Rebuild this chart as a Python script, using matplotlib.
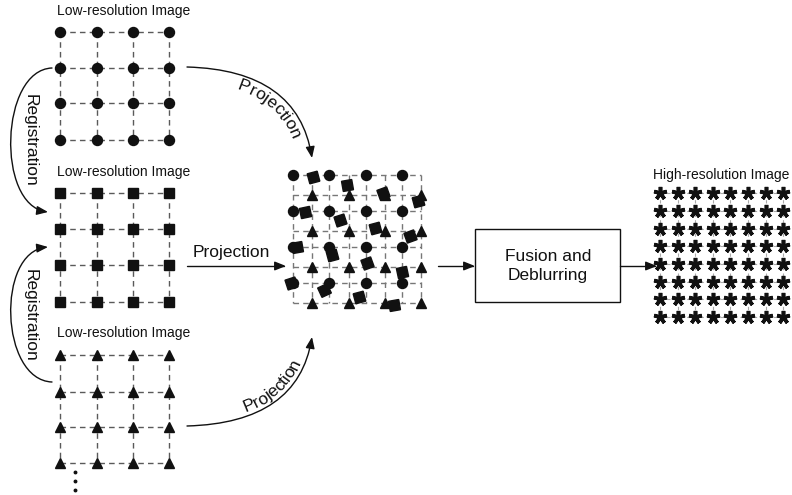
import numpy as np
import matplotlib
matplotlib.use('Agg')
import matplotlib.pyplot as plt
from matplotlib.patches import FancyArrowPatch, Rectangle
from matplotlib.path import Path
from matplotlib.font_manager import FontProperties

plt.rcParams['font.family'] = ['Liberation Sans', 'DejaVu Sans']

# low-resolution grids (pixel positions, y down)
lr_cols = [60, 97, 133, 169]
circle_rows = [32, 68, 103, 140]
square_rows = [193, 229, 265, 302]
triangle_rows = [355, 392, 427, 463]
lr_title = 'Low-resolution Image'
lr_title_y = [11, 172, 333]

# projected samples on the common grid
proj_circle_x = [293, 329, 366, 402]
proj_circle_y = [175, 211, 247, 283]
proj_tri_x = [312, 349, 385, 421]
proj_tri_y = [195, 231, 267, 303]
proj_sq_x = [313, 347, 383, 418, 305, 340, 375, 410, 297, 332, 367, 402, 291, 324, 359, 394]
proj_sq_y = [177, 185, 193, 201, 212, 220, 228, 236, 247, 255, 263, 272, 283, 290, 297, 305]
proj_sq_angle = [15, 10, 20, 15, 12, 18, 15, 20, 10, 15, 20, 12, 18, 25, 15, 10]

# high-resolution grid
hr_cols = [660, 678, 695, 713, 730, 748, 766, 783]
hr_rows = [193, 211, 229, 246, 264, 282, 299, 317]
hr_title = 'High-resolution Image'

ink = '#111111'
dash_c = '#5a5a5a'
head = '-|>,head_length=0.45,head_width=0.18'

fig = plt.figure(figsize=(7.92, 4.95), dpi=100)
ax = fig.add_axes([0, 0, 1, 1])
ax.set_xlim(0, 792)
ax.set_ylim(495, 0)
ax.axis('off')


def lr_grid(rows, marker, ms):
    for y in rows:
        ax.plot([lr_cols[0], lr_cols[-1]], [y, y], ls=(0, (4, 3)), color=dash_c, lw=1, zorder=1)
    for x in lr_cols:
        ax.plot([x, x], [rows[0], rows[-1]], ls=(0, (4, 3)), color=dash_c, lw=1, zorder=1)
    X, Y = np.meshgrid(lr_cols, rows)
    ax.plot(X.ravel(), Y.ravel(), ls='none', marker=marker, ms=ms, color=ink, zorder=3)


lr_grid(circle_rows, 'o', 7.2)
lr_grid(square_rows, 's', 7.0)
lr_grid(triangle_rows, '^', 7.5)
for y in lr_title_y:
    ax.text(57, y, lr_title, fontsize=10, color=ink, ha='left', va='center')

# dots below the last grid
ax.plot([75, 75, 75], [472, 481, 490], ls='none', marker='o', ms=1.8, color=ink)

# projected grid
gx = sorted(proj_circle_x + proj_tri_x)
gy = sorted(proj_circle_y + proj_tri_y)
for y in gy:
    ax.plot([gx[0], gx[-1]], [y, y], ls=(0, (4, 3)), color='#777777', lw=1, zorder=1)
for x in gx:
    ax.plot([x, x], [gy[0], gy[-1]], ls=(0, (4, 3)), color='#777777', lw=1, zorder=1)
X, Y = np.meshgrid(proj_circle_x, proj_circle_y)
ax.plot(X.ravel(), Y.ravel(), ls='none', marker='o', ms=7.2, color=ink, zorder=3)
X, Y = np.meshgrid(proj_tri_x, proj_tri_y)
ax.plot(X.ravel(), Y.ravel(), ls='none', marker='^', ms=7.5, color=ink, zorder=3)
for x, y, a in zip(proj_sq_x, proj_sq_y, proj_sq_angle):
    ax.plot(x, y, ls='none', marker=(4, 0, 45 + a), ms=10.5, color=ink, zorder=4)

# high-resolution grid
for y in hr_rows:
    ax.plot([hr_cols[0], hr_cols[-1]], [y, y], ls=(0, (3, 3)), color='#aaaaaa', lw=0.8, zorder=1)
for x in hr_cols:
    ax.plot([x, x], [hr_rows[0], hr_rows[-1]], ls=(0, (3, 3)), color='#aaaaaa', lw=0.8, zorder=1)
X, Y = np.meshgrid(hr_cols, hr_rows)
ax.plot(X.ravel(), Y.ravel(), ls='none', marker=(5, 2, 0), ms=9.5, mew=2.6, color=ink, zorder=3)
ax.text(653, 175, hr_title, fontsize=10, color=ink, ha='left', va='center')

# fusion box
ax.add_patch(Rectangle((475, 229), 145, 73, fill=False, ec=ink, lw=1.0))
ax.text(548, 266, 'Fusion and\nDeblurring', fontsize=12.5, color=ink, ha='center', va='center',
        linespacing=1.35)


def arrow(verts, codes):
    ax.add_patch(FancyArrowPatch(path=Path(verts, codes), arrowstyle=head, mutation_scale=15,
                                 color=ink, lw=1.0))


L2 = [Path.MOVETO, Path.LINETO]
Q3 = [Path.MOVETO, Path.CURVE3, Path.CURVE3]
C4 = [Path.MOVETO, Path.CURVE4, Path.CURVE4, Path.CURVE4]

arrow([(187, 266), (286, 266)], L2)
arrow([(438, 266), (475, 266)], L2)
arrow([(620, 266), (657, 266)], L2)
ax.text(231, 257, 'Projection', fontsize=12.5, color=ink, ha='center', va='baseline')

top_proj = [(187, 67), (298, 70), (312, 158)]
bot_proj = [(187, 426), (298, 423), (312, 337)]
arrow(top_proj, Q3)
arrow(bot_proj, Q3)

reg1 = [(52, 68), (0, 70), (-4, 205), (48, 212)]
reg2 = [(52, 382), (0, 380), (-4, 252), (48, 247)]
arrow(reg1, C4)
arrow(reg2, C4)
ax.text(30, 140, 'Registration', fontsize=12.5, color=ink, ha='center', va='center', rotation=-90)
ax.text(30, 315, 'Registration', fontsize=12.5, color=ink, ha='center', va='center', rotation=-90)


def curved_text(text, ctrl, offset, frac, fs):
    p0, c, p2 = [np.array(p, float) for p in ctrl]
    t = np.linspace(0, 1, 800)[:, None]
    pts = (1 - t) ** 2 * p0 + 2 * (1 - t) * t * c + t ** 2 * p2
    d = np.gradient(pts, axis=0)
    d /= np.hypot(d[:, 0], d[:, 1])[:, None]
    n = np.stack([-d[:, 1], d[:, 0]], 1)
    if np.dot((p0 + p2) / 2 - pts[400], n[400]) < 0:
        n = -n
    off = pts + offset * n
    s = np.r_[0, np.cumsum(np.hypot(*np.diff(off, axis=0).T))]
    renderer = fig.canvas.get_renderer()
    prop = FontProperties(family='Liberation Sans', size=fs)
    w = [0.0] + [renderer.get_text_width_height_descent(text[:k], prop, ismath=False)[0]
                 for k in range(1, len(text) + 1)]
    sc = frac * s[-1]
    for k, ch in enumerate(text):
        sk = sc - w[-1] / 2 + (w[k] + w[k + 1]) / 2
        x = np.interp(sk, s, off[:, 0])
        y = np.interp(sk, s, off[:, 1])
        tx = np.interp(sk, s, d[:, 0])
        ty = np.interp(sk, s, d[:, 1])
        ang = -np.degrees(np.arctan2(ty, tx))
        ax.text(x, y, ch, fontsize=fs, color=ink, rotation=ang, rotation_mode='anchor',
                ha='center', va='baseline')


curved_text('Projection', top_proj, 15, 0.6, 12.5)
curved_text('Projection', bot_proj, 4, 0.6, 12.5)

fig.savefig('out.png', dpi=100)
